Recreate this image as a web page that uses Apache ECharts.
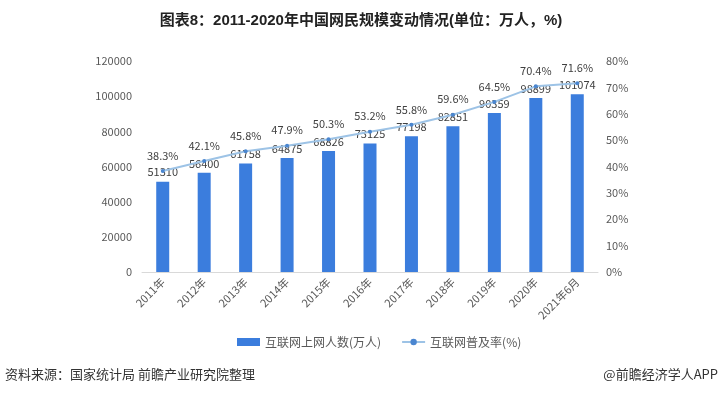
<!DOCTYPE html>
<html><head><meta charset="utf-8">
<script src="https://cdn.jsdelivr.net/npm/echarts@6/dist/echarts.min.js"></script>
<style>html,body{margin:0;padding:0;background:#fff}#c{width:722px;height:395px}</style>
</head><body><div id="c"></div>
<script>
const categories = ['2011年','2012年','2013年','2014年','2015年','2016年','2017年','2018年','2019年','2020年','2021年6月'];
const users = [51310, 56400, 61758, 64875, 68826, 73125, 77198, 82851, 90359, 98899, 101074];
const rate = [38.3, 42.1, 45.8, 47.9, 50.3, 53.2, 55.8, 59.6, 64.5, 70.4, 71.6];
const leftTicks = [0, 120000, 20000];
const rightTicks = [0, 80, 10];
const FONT = '"Noto Sans CJK SC", sans-serif';
const TFONT = '"Liberation Sans", "Noto Sans CJK SC", sans-serif';
const chart = echarts.init(document.getElementById('c'));
chart.setOption({
  animation: false,
  textStyle: {fontFamily: FONT},
  title: {
    text: '图表8：2011-2020年中国网民规模变动情况(单位：万人，%)',
    left: 'center', top: 8,
    textStyle: {fontSize: 15, fontWeight: 'bold', color: '#222', fontFamily: TFONT}
  },
  graphic: [
    {type: 'text', left: 5, top: 368, style: {text: '资料来源：国家统计局 前瞻产业研究院整理', fontSize: 13, fill: '#333', fontFamily: FONT}},
    {type: 'text', right: 4, top: 368, style: {text: '@前瞻经济学人APP', fontSize: 13, fill: '#333', fontFamily: FONT}}
  ],
  legend: {
    bottom: 42, left: 232, itemGap: 20,
    textStyle: {fontSize: 12, color: '#595959'},
    data: [
      {name: '互联网上网人数(万人)', icon: 'rect', itemStyle: {color: '#3b7ddd'}},
      {name: '互联网普及率(%)'}
    ],
    itemWidth: 23, itemHeight: 8
  },
  grid: {left: 142, right: 124, top: 61, bottom: 123, containLabel: false},
  xAxis: {
    type: 'category', data: categories,
    axisLine: {lineStyle: {color: '#d9d9d9'}},
    axisTick: {show: false},
    axisLabel: {rotate: 45, fontSize: 11, color: '#595959', interval: 0, margin: 8}
  },
  yAxis: [
    {type: 'value', min: leftTicks[0], max: leftTicks[1], interval: leftTicks[2],
     splitLine: {show: false}, axisLine: {show: false}, axisTick: {show: false},
     axisLabel: {fontSize: 11, color: '#595959', margin: 10, formatter: v => String(v)}},
    {type: 'value', min: rightTicks[0], max: rightTicks[1], interval: rightTicks[2],
     splitLine: {show: false}, axisLine: {show: false}, axisTick: {show: false},
     axisLabel: {fontSize: 11, color: '#595959', formatter: '{value}%', margin: 8}}
  ],
  series: [
    {name: '互联网上网人数(万人)', type: 'bar', data: users, barWidth: 13,
     itemStyle: {color: '#3b7ddd'},
     label: {show: true, position: 'top', fontSize: 11, color: '#404040', distance: 4}},
    {name: '互联网普及率(%)', type: 'line', yAxisIndex: 1, data: rate,
     lineStyle: {color: '#9dc3e6', width: 2},
     itemStyle: {color: '#4a86d0'},
     symbol: 'circle', symbolSize: 4,
     label: {show: true, position: 'top', fontSize: 11, color: '#404040', distance: 8,
       formatter: p => p.value.toFixed(1) + '%'}}
  ]
});
</script></body></html>
